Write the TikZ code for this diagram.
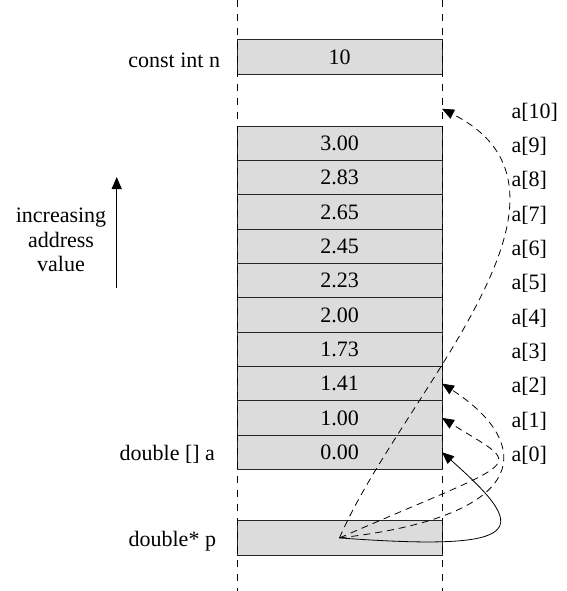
\documentclass[tikz,border=0pt]{standalone}
\usepackage{fontspec}
\setmainfont{Liberation Serif}
\usetikzlibrary{arrows.meta}
\definecolor{cellgray}{RGB}{220,220,220}
\begin{document}
\begin{tikzpicture}[x=1bp,y=-1bp,
  txt/.style={inner sep=0pt,outer sep=0pt,font=\fontsize{22bp}{26bp}\selectfont},
  cell/.style={txt,draw=black!85,line width=0.9bp,fill=cellgray,
    minimum width=205bp,minimum height=34.33bp},
  guide/.style={line width=0.9bp,dash pattern=on 7bp off 7bp},
  ptr/.style={-{Triangle[length=12bp,width=10bp]},line width=0.8bp},
  ptrdash/.style={ptr,dash pattern=on 7bp off 5bp},
  upaxis/.style={-{Triangle[length=12bp,width=10bp]},line width=1.2bp}]
\useasboundingbox (0,0) rectangle (567,591);

% memory cells
\node[cell] (n) at (339.5,57) {10};
\foreach \k/\v in {0/0.00,1/1.00,2/1.41,3/1.73,4/2.00,5/2.23,6/2.45,7/2.65,8/2.83,9/3.00}
  \node[cell] (a\k) at (339.5,{452.2-34.33*\k}) {\v};
\coordinate (a10) at (442,108.8);
\node[cell] (p) at (339.5,537.9) {};

% borders of the memory column
\coordinate (gl0) at (237,0);   \coordinate (gl1) at (237,591);
\coordinate (gr0) at (442,0);   \coordinate (gr1) at (442,591);
\draw[guide] (gl0) -- (gl1);
\draw[guide] (gr0) -- (gr1);

% element names
\foreach \k in {0,...,10}
  \node[txt,anchor=base west] (lab\k) at (511.5,{461.5-34.33*\k}) {a[\k]};

% variable names
\node[txt,anchor=base east] (nname) at (220,67.3) {const int n};
\node[txt,anchor=base east] (aname) at (215,460.7) {double [] a};
\node[txt,anchor=base east] (pname) at (216,546.7) {double* p};

% address direction
\node[txt,align=center,font=\fontsize{22bp}{24.7bp}\selectfont] (dir) at (61,240)
  {increasing\\address\\value};
\coordinate (axlow) at (116.7,288);
\coordinate (axhigh) at (116.7,177);
\draw[upaxis] (axlow) -- (axhigh);

% pointer p moving along the array
\draw[ptr] (p.center) .. controls (530,552) and (530,530) .. (a0.east);
\draw[ptrdash] (p.center) .. controls (530,455) and (525,470) .. (a1.east);
\draw[ptrdash] (p.center) .. controls (540,515) and (530,440) .. (a2.east);
\draw[ptrdash] (p.center) .. controls (400,397) and (610,193) .. (a10);
\end{tikzpicture}
\end{document}
